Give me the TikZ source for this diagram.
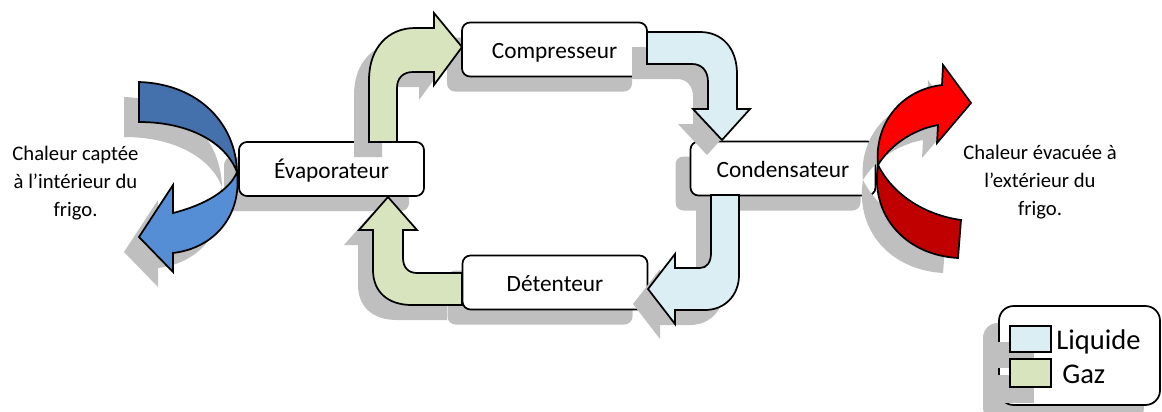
\documentclass[tikz,border=0pt]{standalone}
\usepackage{fontspec}
\setmainfont{Carlito}
\usetikzlibrary{shadows}
\definecolor{liq}{HTML}{DAEEF3}
\definecolor{gaz}{HTML}{D7E4BD}
\definecolor{shd}{HTML}{BFBFBF}
\definecolor{bluedark}{HTML}{4470AC}
\definecolor{bluelight}{HTML}{558ED5}
\definecolor{redlight}{HTML}{FF0000}
\definecolor{reddark}{HTML}{C00000}
\tikzset{
  stagebox/.style={draw=black, line width=1.3pt, fill=white, rounded corners=6pt,
    minimum width=138.75pt, minimum height=40.5pt, inner sep=0pt,
    text height=16pt, text depth=2.5pt,
    font=\fontsize{17.5}{21}\selectfont,
    drop shadow={shadow xshift=-11.25pt, shadow yshift=-11.25pt, fill=shd, opacity=1}},
  blockarrow/.style={draw=black, line width=1.3pt, line join=miter},
  arrowshadow/.style={fill=shd, shift={(-15,15)}},
  sidetext/.style={align=center, inner sep=0pt, font=\fontsize{15.5}{21}\selectfont},
  legendbox/.style={draw=black, line width=1.3pt, fill=white, rounded corners=11pt,
    minimum width=120.75pt, minimum height=74.25pt, inner sep=0pt,
    drop shadow={shadow xshift=-12pt, shadow yshift=-12.75pt, fill=shd, opacity=1}},
  legsq/.style={draw=black, line width=1.3pt, minimum width=30.75pt, inner sep=0pt,
    drop shadow={shadow xshift=-12.75pt, shadow yshift=-12pt, fill=shd, opacity=1}},
  legtext/.style={inner sep=0pt, font=\fontsize{21.4}{25}\selectfont}
}
\begin{document}
\begin{tikzpicture}[x=0.75pt, y=-0.75pt]
\useasboundingbox (0,0) rectangle (1162,411);

% stage boxes
\node[stagebox] (evap) at (331.5,169) {Évaporateur};
\node[stagebox] (comp) at (554.5,49.5) {Compresseur};
\node[stagebox] (cond) at (783,168.5) {Condensateur};
\node[stagebox] (det)  at (555,282.5) {Détenteur};

% block arrow outlines
\def\greenTop{(369,142) -- (369,80) .. controls (369,48) and (388,28) .. (415,28) -- (434,28) -- (434,13) -- (462,47) -- (434,85) -- (434,72) -- (413,72) .. controls (403,72) and (397,78) .. (397,88) -- (397,142) -- cycle}
\def\greenBot{(462,273) -- (417,273) .. controls (408,273) and (403,267) .. (403,258) -- (403,230) -- (417,230) -- (388,197) -- (359,230) -- (373,230) -- (373,270) .. controls (373,292) and (388,305) .. (412,305) -- (462,305) -- cycle}
\def\blueTop{(647,32) -- (700,32) .. controls (722,32) and (737,48) .. (737,74) -- (737,109) -- (750,109) -- (722,140) -- (693,109) -- (708,109) -- (708,82) .. controls (708,71) and (702,64) .. (692,64) -- (647,64) -- cycle}
\def\blueBot{(711,195) -- (711,253) .. controls (711,262) and (707,268) .. (700,268) -- (675,268) -- (675,254) -- (648,289) -- (675,324) -- (675,310) -- (705,310) .. controls (725,310) and (739,295) .. (739,275) -- (739,195) -- cycle}
\def\leftDark{(139,82) .. controls (200,84) and (236,125) .. (237,172) .. controls (226,143) and (190,122) .. (139,122) -- cycle}
\def\leftLight{(237,172) .. controls (242,215) and (215,248) .. (173,253) -- (173,272) -- (139,237) -- (173,185) -- (173,213) .. controls (205,205) and (230,190) .. (237,172) -- cycle}
\def\rightUp{(878,165) .. controls (874,125) and (900,90) .. (942,85) -- (943,65) -- (971,103) -- (937,143) -- (938,125) .. controls (910,130) and (888,148) .. (878,165) -- cycle}
\def\rightLow{(878,165) .. controls (870,215) and (905,255) .. (958,258) -- (961,220) .. controls (925,215) and (893,195) .. (878,165) -- cycle}

% Gaz arrows
\fill[arrowshadow] \greenTop;
\draw[blockarrow, fill=gaz] \greenTop;
\fill[arrowshadow] \greenBot;
\draw[blockarrow, fill=gaz] \greenBot;
% Liquide arrows
\fill[arrowshadow] \blueTop;
\draw[blockarrow, fill=liq] \blueTop;
\fill[arrowshadow] \blueBot;
\draw[blockarrow, fill=liq] \blueBot;
% heat arrows
\fill[arrowshadow] \leftDark;
\fill[arrowshadow] \leftLight;
\draw[blockarrow, fill=bluedark] \leftDark;
\draw[blockarrow, fill=bluelight] \leftLight;
\fill[arrowshadow] \rightUp;
\fill[arrowshadow] \rightLow;
\draw[blockarrow, fill=reddark] \rightLow;
\draw[blockarrow, fill=redlight] \rightUp;

% side texts
\node[sidetext] (inside) at (75.5,183) {Chaleur captée\\à l’intérieur du\\frigo.};
\node[sidetext] (outside) at (1040,182) {Chaleur évacuée à\\l’extérieur du\\frigo.};

% legend
\node[legendbox] (legend) at (1079.5,355.5) {};
\node[legsq, fill=liq, minimum height=19.5pt] (sqliq) at (1030.5,339) {};
\node[legsq, fill=gaz, minimum height=21pt] (sqgaz) at (1030.5,373) {};
\node[legtext, anchor=base west] (tliq) at (1056,349) {Liquide};
\node[legtext, anchor=base west] (tgaz) at (1062,383) {Gaz};
\end{tikzpicture}
\end{document}
